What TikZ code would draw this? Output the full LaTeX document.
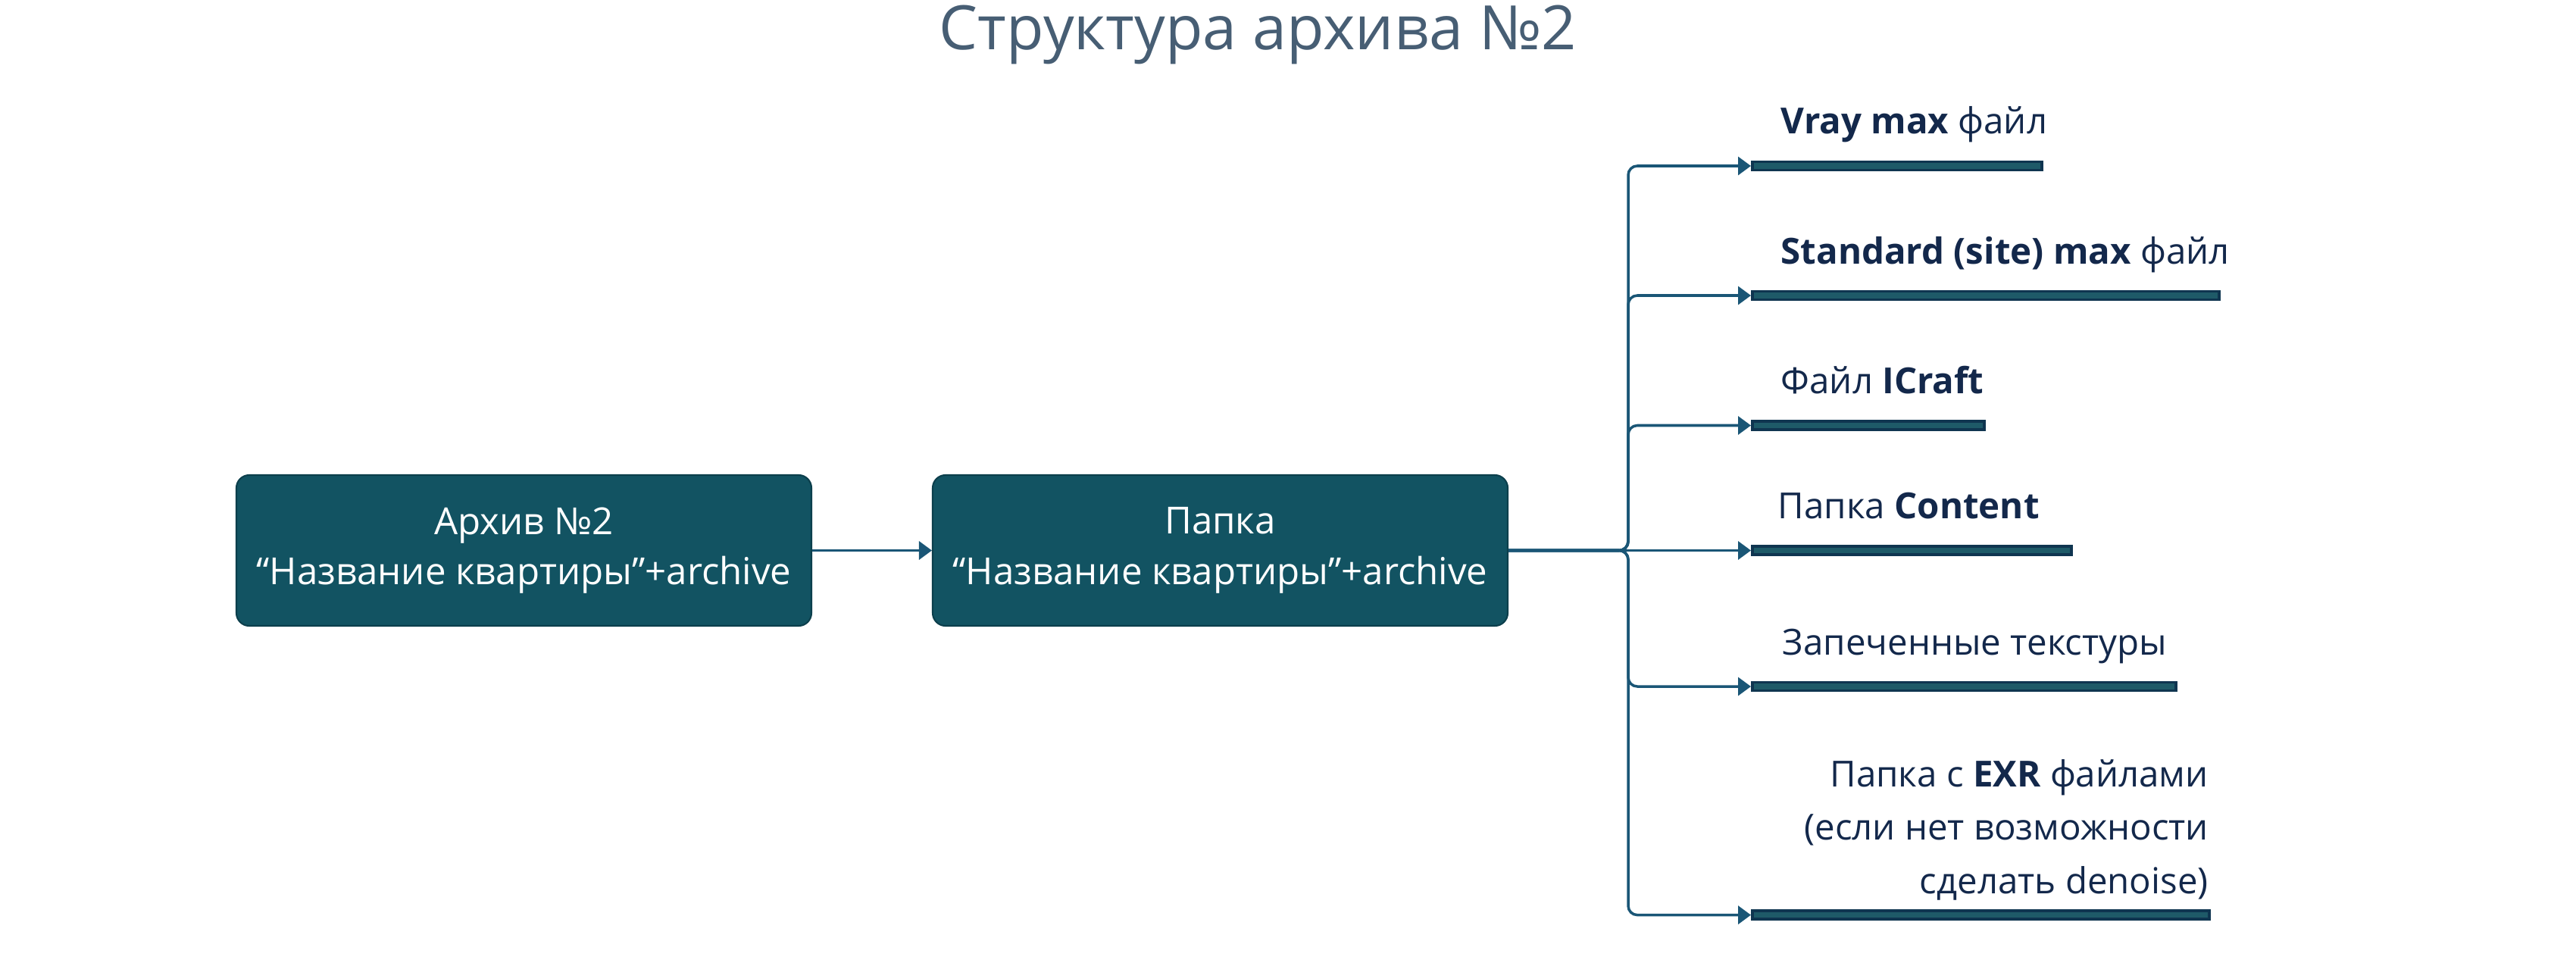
\documentclass[tikz,border=0pt]{standalone}
\usepackage{fontspec}
\setmainfont{Open Sans}
\usetikzlibrary{arrows.meta,calc,positioning}
\definecolor{boxfill}{HTML}{125362}
\definecolor{boxedge}{HTML}{0C3F4C}
\definecolor{linkcol}{HTML}{1A5676}
\definecolor{barfill}{HTML}{1E5A68}
\definecolor{baredge}{HTML}{0F3550}
\definecolor{labcol}{HTML}{13284B}
\definecolor{titlecol}{HTML}{475E74}

\begin{document}
\begin{tikzpicture}[x=1cm,y=1cm,>={Triangle[length=1.7mm,width=2.4mm]},
  box/.style={draw=boxedge,fill=boxfill,rounded corners=0.17cm,line width=0.6pt,
    minimum width=7.59cm,minimum height=1.99cm,text=white,align=center,
    font=\fontsize{14}{19}\selectfont},
  link/.style={->,draw=linkcol,line width=1pt,rounded corners=0.12cm},
  bar/.style={draw=baredge,fill=barfill,line width=1pt,minimum height=0.11cm,
    inner sep=0pt,anchor=west},
  lbl/.style={text=labcol,font=\fontsize{13.5}{20}\selectfont,inner sep=0pt}]
  \useasboundingbox (0,0) rectangle (34,12.66);

  \node[text=titlecol,font=\fontsize{23}{27}\selectfont,anchor=base] (title)
    at (16.6,12.0) {Структура архива №2};

  \node[box] (archive) at (6.915,5.395) {Архив №2\\“Название квартиры”+archive};
  \node[box] (folder) at (16.105,5.395) {Папка\\“Название квартиры”+archive};
  \coordinate (hub) at (21.49,5.395);

  % target bars
  \node[bar,minimum width=3.82cm] (bar1) at (23.11,10.47) {};
  \node[bar,minimum width=6.16cm] (bar2) at (23.11,8.76) {};
  \node[bar,minimum width=3.06cm] (bar3) at (23.11,7.045) {};
  \node[bar,minimum width=4.21cm] (bar4) at (23.11,5.395) {};
  \node[bar,minimum width=5.59cm] (bar5) at (23.11,3.60) {};
  \node[bar,minimum width=6.03cm] (bar6) at (23.11,0.584) {};

  \node[lbl,anchor=base west] (vray) at ($(bar1.west)+(0.39,0.42)$) {\textbf{Vray max} файл};
  \node[lbl,anchor=base west] (site) at ($(bar2.west)+(0.39,0.42)$) {\textbf{Standard (site) max} файл};
  \node[lbl,anchor=base west] (icraft) at ($(bar3.west)+(0.39,0.42)$) {Файл \textbf{ICraft}};
  \node[lbl,anchor=base west] (content) at ($(bar4.west)+(0.35,0.42)$) {Папка \textbf{Content}};
  \node[lbl,anchor=base west] (baked) at ($(bar5.west)+(0.41,0.42)$) {Запеченные текстуры};
  \node[lbl,align=right,anchor=south east] (exr) at ($(bar6.east)+(-0.02,0.19)$)
    {Папка с \textbf{EXR} файлами\\(если нет возможности\hspace{0.3em}\\сделать denoise)};

  \draw[link] (archive) -- (folder);
  \draw[link] (folder.east) -- (bar4.west);
  \foreach \b in {bar1,bar2,bar3,bar5,bar6}
    \draw[link] (folder.east) -- (hub) |- (\b.west);
\end{tikzpicture}
\end{document}
